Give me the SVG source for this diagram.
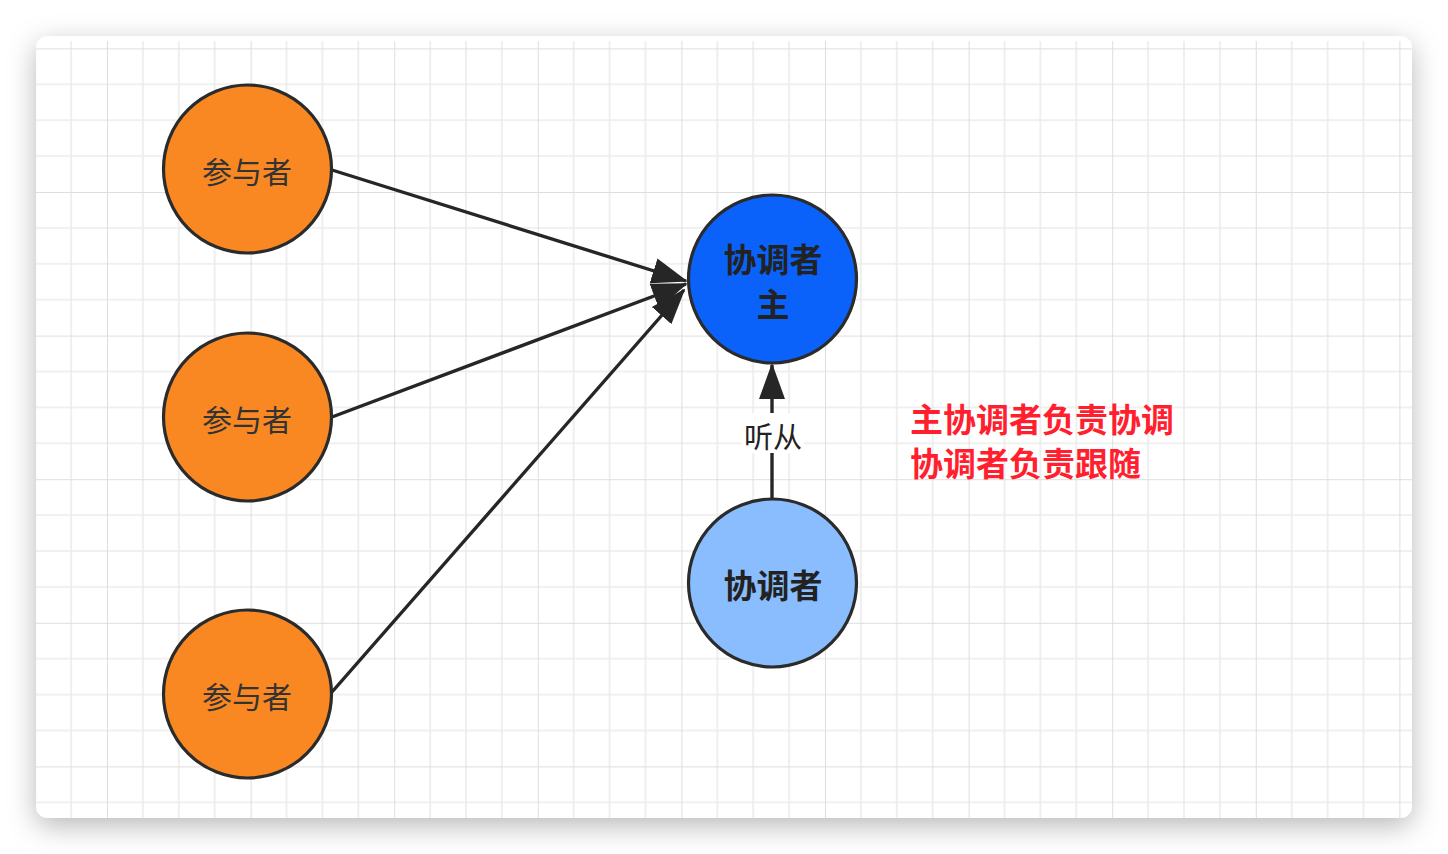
<svg xmlns="http://www.w3.org/2000/svg" width="1448" height="854" viewBox="0 0 1448 854">
<defs>
<style>
.ptxt{font-family:"Noto Sans CJK SC","Noto Sans",sans-serif;font-size:30px;fill:#333;text-anchor:middle;dominant-baseline:central}
.ctxt{font-family:"Noto Sans CJK SC","Noto Sans",sans-serif;font-size:33px;font-weight:bold;fill:#222;text-anchor:middle;dominant-baseline:central}
.node{stroke:#2b2b2b;stroke-width:3.2}
.edge{stroke:#262626;stroke-width:3.4;fill:none}
.lbl{font-family:"Noto Sans CJK SC","Noto Sans",sans-serif;font-size:29px;fill:#222;text-anchor:middle;dominant-baseline:central}
.note{font-family:"Noto Sans CJK SC","Noto Sans",sans-serif;font-size:33px;font-weight:bold;fill:#ff1f2f}
.minor{stroke:#ebebeb;stroke-width:1.6}
.major{stroke:#dedede;stroke-width:2}
</style>
<filter id="sh" x="-10%" y="-10%" width="120%" height="125%">
<feDropShadow dx="0" dy="8" stdDeviation="14" flood-color="#000" flood-opacity="0.28"/>
</filter>
<pattern id="grid" patternUnits="userSpaceOnUse" x="107" y="48.4" width="143.6" height="143.6">
<line class="minor" x1="35.9" y1="0" x2="35.9" y2="143.6"/>
<line class="minor" x1="71.8" y1="0" x2="71.8" y2="143.6"/>
<line class="minor" x1="107.7" y1="0" x2="107.7" y2="143.6"/>
<line class="minor" x1="0" y1="35.9" x2="143.6" y2="35.9"/>
<line class="minor" x1="0" y1="71.8" x2="143.6" y2="71.8"/>
<line class="minor" x1="0" y1="107.7" x2="143.6" y2="107.7"/>
<line class="major" x1="0" y1="0" x2="0" y2="143.6"/>
<line class="major" x1="0" y1="0" x2="143.6" y2="0"/>
</pattern>
<clipPath id="cardclip"><rect x="36" y="36" width="1376" height="782" rx="12"/></clipPath>
<marker id="arr" markerUnits="userSpaceOnUse" markerWidth="36" markerHeight="28" viewBox="0 0 36 28" refX="34" refY="14" orient="auto">
<path d="M0,1 L36,14 L0,27 Z" fill="#262626"/>
</marker>
</defs>
<rect width="1448" height="854" fill="#ffffff"/>
<rect x="36" y="36" width="1376" height="782" rx="12" fill="#ffffff" filter="url(#sh)"/>
<rect x="36" y="41" width="1376" height="777" fill="url(#grid)" clip-path="url(#cardclip)"/>
<g id="connectors">
<line class="edge" x1="332" y1="170" x2="686" y2="281" marker-end="url(#arr)"/>
<line class="edge" x1="332" y1="417" x2="686" y2="284" marker-end="url(#arr)"/>
<line class="edge" x1="332" y1="692" x2="684" y2="290" marker-end="url(#arr)"/>
<line class="edge" x1="772" y1="498" x2="772" y2="365" marker-end="url(#arr)"/>
<rect x="742" y="413" width="62" height="40" fill="#ffffff"/>
<text class="lbl" x="773" y="435">听从</text>
</g>
<g id="p1">
<circle class="node" cx="247.5" cy="169" r="84" fill="#f98823"/>
<text class="ptxt" x="247" y="170">参与者</text>
</g>
<g id="p2">
<circle class="node" cx="247.5" cy="417" r="84" fill="#f98823"/>
<text class="ptxt" x="247" y="418">参与者</text>
</g>
<g id="p3">
<circle class="node" cx="247.5" cy="694" r="84" fill="#f98823"/>
<text class="ptxt" x="247" y="695">参与者</text>
</g>
<g id="master">
<circle class="node" cx="772.5" cy="279" r="84" fill="#0a62fb"/>
<text class="ctxt" x="773" y="258">协调者</text>
<text class="ctxt" x="773" y="303">主</text>
</g>
<g id="follower">
<circle class="node" cx="772.5" cy="583" r="84" fill="#8abdfd"/>
<text class="ctxt" x="773" y="584">协调者</text>
</g>
<g id="note">
<text class="note" x="910" y="418" dominant-baseline="central">主协调者负责协调</text>
<text class="note" x="910" y="462" dominant-baseline="central">协调者负责跟随</text>
</g>
</svg>
